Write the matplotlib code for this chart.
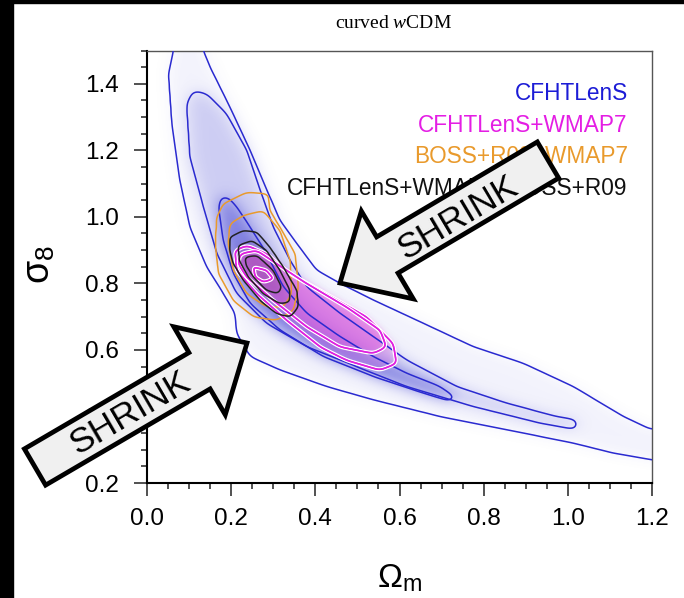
import numpy as np
import matplotlib
matplotlib.use("Agg")
import matplotlib.pyplot as plt
import matplotlib.patheffects as pe
from matplotlib.path import Path
from matplotlib.patches import FancyArrow, Rectangle
from matplotlib.ticker import MultipleLocator, FormatStrFormatter

plt.rcParams["font.family"] = ["Liberation Sans", "DejaVu Sans"]
plt.rcParams["mathtext.fontset"] = "custom"
plt.rcParams["mathtext.rm"] = "Liberation Sans"
plt.rcParams["mathtext.it"] = "Liberation Serif:italic"

# contour outlines (Omega_m, sigma_8)
blue_outer = [(0.063, 1.56), (0.063, 1.50), (0.051, 1.43), (0.059, 1.28), (0.078, 1.11),
              (0.102, 0.97), (0.142, 0.85), (0.181, 0.77), (0.209, 0.71), (0.213, 0.65),
              (0.245, 0.58), (0.316, 0.54), (0.427, 0.49), (0.538, 0.45), (0.696, 0.40),
              (0.855, 0.36), (1.013, 0.32), (1.108, 0.29), (1.199, 0.27), (1.26, 0.26),
              (1.26, 0.37), (1.199, 0.36), (1.132, 0.40), (1.013, 0.49), (0.894, 0.56),
              (0.775, 0.61), (0.657, 0.68), (0.538, 0.75), (0.459, 0.80), (0.403, 0.84),
              (0.356, 0.92), (0.316, 0.99), (0.292, 1.06), (0.245, 1.20), (0.197, 1.33),
              (0.150, 1.45), (0.134, 1.50), (0.134, 1.56)]
blue_mid = [(0.110, 1.38), (0.094, 1.34), (0.102, 1.18), (0.134, 1.03), (0.166, 0.89),
            (0.213, 0.77), (0.284, 0.68), (0.380, 0.61), (0.498, 0.55), (0.617, 0.49),
            (0.775, 0.43), (0.934, 0.38), (1.021, 0.36), (1.021, 0.39), (0.973, 0.40),
            (0.855, 0.44), (0.736, 0.49), (0.617, 0.57), (0.538, 0.64), (0.459, 0.71),
            (0.380, 0.79), (0.340, 0.87), (0.300, 0.97), (0.269, 1.08), (0.237, 1.20),
            (0.189, 1.31), (0.142, 1.37)]
blue_inner = [(0.177, 1.064), (0.170, 1.03), (0.181, 0.93), (0.205, 0.83), (0.245, 0.74),
              (0.316, 0.66), (0.419, 0.58), (0.538, 0.52), (0.657, 0.47), (0.724, 0.444),
              (0.732, 0.459), (0.696, 0.49), (0.617, 0.53), (0.538, 0.58), (0.459, 0.64),
              (0.380, 0.71), (0.324, 0.79), (0.284, 0.89), (0.245, 0.97), (0.213, 1.03),
              (0.193, 1.059)]
magenta_outer = [(0.209, 0.899), (0.237, 0.914), (0.284, 0.889), (0.340, 0.829), (0.411, 0.779),
                 (0.522, 0.699), (0.585, 0.619), (0.593, 0.559), (0.554, 0.539), (0.474, 0.569),
                 (0.411, 0.609), (0.332, 0.689), (0.261, 0.769), (0.213, 0.839)]
magenta_mid = [(0.221, 0.889), (0.261, 0.899), (0.308, 0.859), (0.380, 0.799), (0.474, 0.729),
               (0.554, 0.659), (0.569, 0.609), (0.538, 0.589), (0.459, 0.609), (0.380, 0.669),
               (0.300, 0.749), (0.237, 0.819), (0.217, 0.859)]
magenta_inner = [(0.253, 0.849), (0.284, 0.839), (0.300, 0.814), (0.277, 0.804), (0.257, 0.819)]
orange_outer = [(0.181, 1.039), (0.237, 1.074), (0.288, 1.069), (0.292, 1.019), (0.316, 0.969),
                (0.352, 0.889), (0.360, 0.789), (0.348, 0.719), (0.308, 0.689), (0.253, 0.699),
                (0.205, 0.749), (0.170, 0.829), (0.162, 0.919), (0.166, 0.999)]
orange_inner = [(0.197, 0.979), (0.229, 1.004), (0.276, 1.019), (0.316, 0.959), (0.340, 0.869),
                (0.344, 0.769), (0.324, 0.729), (0.284, 0.729), (0.237, 0.769), (0.205, 0.839),
                (0.193, 0.919)]
black_outer = [(0.197, 0.939), (0.229, 0.959), (0.261, 0.954), (0.292, 0.909), (0.324, 0.849),
               (0.356, 0.779), (0.360, 0.729), (0.340, 0.699), (0.308, 0.709), (0.269, 0.749),
               (0.229, 0.809), (0.205, 0.859), (0.196, 0.904)]
black_mid = [(0.217, 0.914), (0.249, 0.929), (0.284, 0.899), (0.316, 0.839), (0.340, 0.779),
             (0.340, 0.744), (0.316, 0.739), (0.276, 0.769), (0.241, 0.819), (0.219, 0.869)]
black_inner = [(0.233, 0.879), (0.261, 0.884), (0.300, 0.839), (0.320, 0.789), (0.312, 0.769),
               (0.284, 0.779), (0.253, 0.819), (0.235, 0.854)]

legend_labels = ["CFHTLenS", "CFHTLenS+WMAP7", "BOSS+R09+WMAP7", "CFHTLenS+WMAP7+BOSS+R09"]
legend_colors = ["#1c1cd6", "#e41ee4", "#e99a2c", "#111111"]
arrow_label = "SHRINK"

# grid for the smoothed regions
xg = np.arange(-0.06, 1.32, 0.002)
yg = np.arange(0.12, 1.62, 0.002)
X, Y = np.meshgrid(xg, yg)
pts = np.column_stack([X.ravel(), Y.ravel()])


def smooth(a, s):
    n = int(3 * s) + 1
    k = np.exp(-0.5 * (np.arange(-n, n + 1) / s) ** 2)
    k /= k.sum()
    a = np.apply_along_axis(lambda r: np.convolve(r, k, mode="same"), 0, a)
    a = np.apply_along_axis(lambda r: np.convolve(r, k, mode="same"), 1, a)
    return a


def inside(poly):
    return Path(poly).contains_points(pts).reshape(X.shape).astype(float)


def shade(ax, dens, rgb, amax, z):
    img = np.zeros(dens.shape + (4,))
    img[..., :3] = rgb
    img[..., 3] = np.clip(dens, 0, 1) * amax
    ax.imshow(img, origin="lower", extent=(xg[0], xg[-1], yg[0], yg[-1]),
              aspect="auto", interpolation="bilinear", zorder=z)


def lines(ax, polys, s, color, z, effects=None):
    for poly in polys:
        cs = ax.contour(X, Y, smooth(inside(poly), s), levels=[0.5], colors=color,
                        linewidths=1.1, zorder=z)
        if effects:
            cs.set_path_effects(effects)


fig = plt.figure(figsize=(6.84, 5.98), dpi=100)
ax = fig.add_axes([147 / 684, 115 / 598, 505 / 684, 432.5 / 598])

# shaded densities
blue_d = (0.1 * smooth(inside(blue_outer), 10) + 0.3 * smooth(inside(blue_mid), 10)
          + 0.65 * smooth(inside(blue_inner), 10))
shade(ax, blue_d, (0.35, 0.35, 0.85), 0.75, 1)
mag_d = 0.45 * smooth(inside(magenta_outer), 4) + 0.55 * smooth(inside(magenta_mid), 4)
shade(ax, mag_d, (0.87, 0.35, 0.87), 0.7, 2)
blk_d = 0.5 * smooth(inside(black_mid), 4) + 0.5 * smooth(inside(black_inner), 4)
shade(ax, blk_d, (0.5, 0.25, 0.5), 0.3, 3)

# contour lines
lines(ax, (blue_outer, blue_mid, blue_inner), 5, "#2a2ad0", 4)
lines(ax, (orange_outer, orange_inner), 4, "#e99a2c", 5)
halo = [pe.withStroke(linewidth=3.0, foreground="white"), pe.Normal()]
lines(ax, (magenta_outer, magenta_mid), 4, "#e020e0", 6, halo)
lines(ax, (magenta_inner,), 2, "#e020e0", 6, halo)
lines(ax, (black_outer, black_mid, black_inner), 3, "#222222", 7)

ax.set_xlim(0, 1.2)
ax.set_ylim(0.2, 1.5)
ax.xaxis.set_major_locator(MultipleLocator(0.2))
ax.xaxis.set_minor_locator(MultipleLocator(0.05))
ax.yaxis.set_major_locator(MultipleLocator(0.2))
ax.yaxis.set_minor_locator(MultipleLocator(0.05))
ax.xaxis.set_major_formatter(FormatStrFormatter("%.1f"))
ax.yaxis.set_major_formatter(FormatStrFormatter("%.1f"))
ax.tick_params(which="both", direction="out", top=False, right=False,
               labelsize=17.5, width=1.1, color="#222222")
ax.tick_params(which="major", length=9.5)
ax.tick_params(axis="x", which="major", pad=8.8)
ax.tick_params(axis="y", which="major", pad=10.6)
ax.tick_params(which="minor", length=4.5)
for side in ("left", "bottom"):
    ax.spines[side].set_linewidth(1.5)
for side in ("top", "right"):
    ax.spines[side].set_linewidth(1.0)
    ax.spines[side].set_color("#555555")

# legend text
leg_y = [0.8855, 0.8116, 0.7399, 0.6659]
for lab, c, yy in zip(legend_labels, legend_colors, leg_y):
    ax.text(0.952, yy, lab, transform=ax.transAxes, ha="right", va="baseline",
            color=c, fontsize=16.3, zorder=8)

fig.text(393 / 684, 1 - 23 / 598, "curved $w$CDM", family="Liberation Serif",
         fontsize=14, ha="center", va="center")
fig.text(400 / 684, 1 - 578 / 598, r"$\Omega_\mathrm{m}$", fontsize=24,
         ha="center", va="center")
fig.text(40 / 684, 1 - 265 / 598, r"$\mathrm{\sigma}_8$", fontsize=27,
         ha="center", va="center", rotation=90)

# the two SHRINK arrows (figure inches)
for (x0, y0, x1, y1, ang, tx, ty) in [(5.48, 4.38, 3.40, 3.15, 30.6, 4.58, 3.80),
                                      (0.35, 1.31, 2.47, 2.55, 30.3, 1.30, 1.85)]:
    fa = FancyArrow(x0, y0, x1 - x0, y1 - y0, width=0.42, head_width=1.02,
                    head_length=0.55, length_includes_head=True,
                    transform=fig.dpi_scale_trans, fc="#f0f0f0", ec="black",
                    lw=3.4, joinstyle="miter", zorder=10)
    fig.add_artist(fa)
    fig.text(tx / 6.84, ty / 5.98, arrow_label, fontsize=25.5, rotation=ang,
             rotation_mode="anchor", ha="center", va="center", zorder=11)

# black frame strips at the left and top
fig.add_artist(Rectangle((0, 0), 13 / 684, 1, transform=fig.transFigure,
                         color="black", zorder=20))
fig.add_artist(Rectangle((0, 1 - 3 / 598), 1, 3 / 598, transform=fig.transFigure,
                         color="black", zorder=20))

fig.savefig("out.png", dpi=100)
